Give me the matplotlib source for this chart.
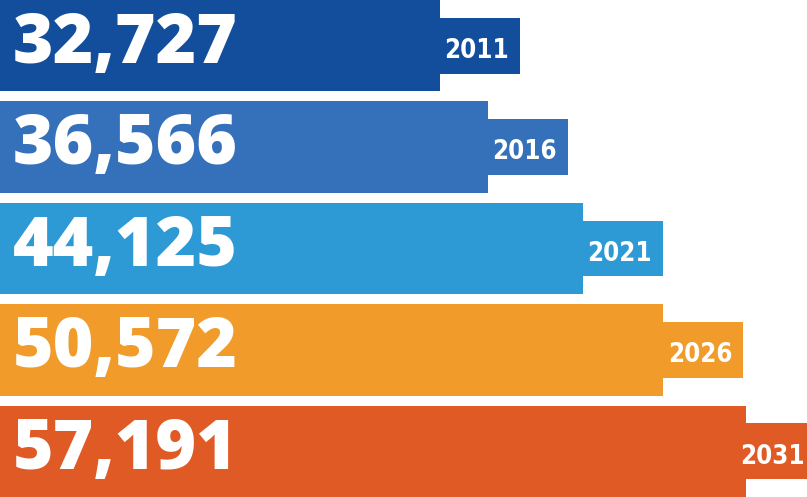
import matplotlib.pyplot as plt

years = ["2011", "2016", "2021", "2026", "2031"]
values = [32727, 36566, 44125, 50572, 57191]
colors = ["#124E9C", "#3570BA", "#2D9AD6", "#F09B2A", "#E05A25"]

x0, x1 = -2450, 62068
px = (x1 - x0) / 807  # data units per pixel
tab_w = 80 * px

fig = plt.figure(figsize=(8.07, 4.97), dpi=100)
ax = fig.add_axes([0, 0, 1, 1])

ys = list(range(len(values)))
ax.barh(ys, [v - x0 for v in values], left=x0, height=0.9, color=colors)
ax.barh(ys, tab_w, left=values, height=0.55, color=colors)

for i, (v, yr) in enumerate(zip(values, years)):
    ax.text(13 / 807, i + 0.17, f"{v:,}", transform=ax.get_yaxis_transform(),
            color="white", fontsize=50, fontweight="heavy", family="Open Sans",
            va="baseline", ha="left")
    xr = min(v + tab_w - 11 * px, x1 - 2 * px)
    ax.text(xr, i + 0.12, yr, color="white", fontsize=18.5,
            fontweight="bold", fontstretch="condensed", family="DejaVu Sans",
            va="baseline", ha="right")

ax.set_xlim(x0, x1)
ax.set_ylim(4.45, -0.45)
ax.axis("off")

fig.savefig("out.png", dpi=100)
